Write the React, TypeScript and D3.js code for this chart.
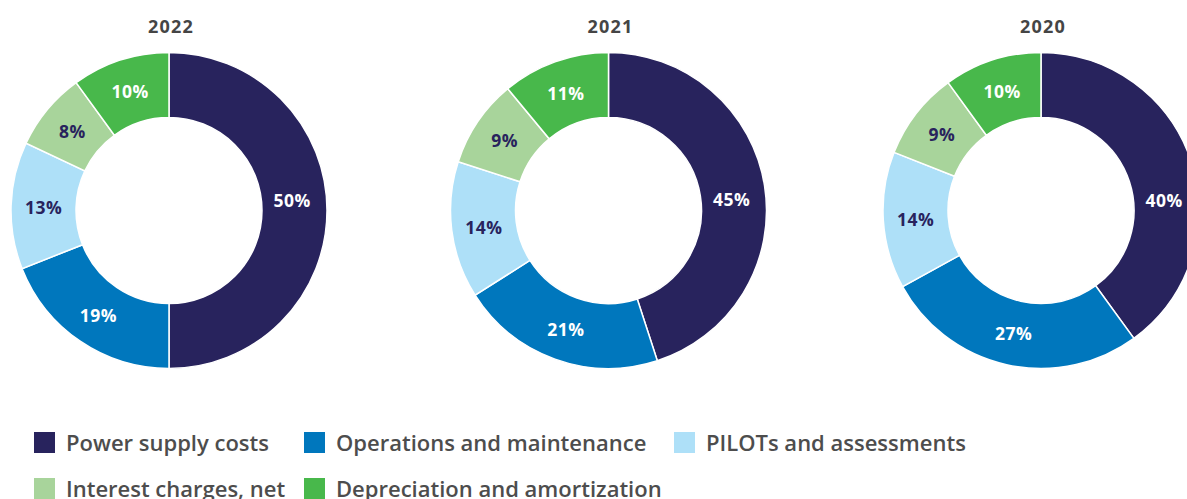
import React from "react";
import * as d3 from "d3";

const categories = [
  "Power supply costs",
  "Operations and maintenance",
  "PILOTs and assessments",
  "Interest charges, net",
  "Depreciation and amortization",
];
const years = ["2022", "2021", "2020"];
const values2022 = [50, 19, 13, 8, 10];
const values2021 = [45, 21, 14, 9, 11];
const values2020 = [40, 27, 14, 9, 10];
const seriesValues = [values2022, values2021, values2020];

const colors = ["#28235d", "#0077bd", "#aee0f8", "#a8d49b", "#48b84b"];
const labelColors = ["#ffffff", "#ffffff", "#28235d", "#28235d", "#ffffff"];

const W = 1187;
const H = 499;
const centersX = [169, 608.5, 1041];
const CY = 210.5;
const R_OUT = 158;
const R_IN = 93;
const FONT = "'Open Sans', Lato, sans-serif";

const legendCols = [34, 304, 674];
const legendRows = [432, 478];
const SW = 21;

export default function App() {
  const pie = d3
    .pie<number>()
    .value((d) => d)
    .sort(null);
  const arc = d3
    .arc<d3.PieArcDatum<number>>()
    .innerRadius(R_IN)
    .outerRadius(R_OUT);
  const labelR = (R_IN + R_OUT) / 2;

  return (
    <svg
      width={W}
      height={H}
      style={{ position: "absolute", left: 0, top: 0, background: "#fff" }}
      fontFamily={FONT}
    >
      {seriesValues.map((vals, i) => {
        const arcs = pie(vals);
        const cx = centersX[i];
        return (
          <g key={years[i]} transform={`translate(${cx},${CY})`}>
            <text
              x={2}
              y={-CY + 33}
              textAnchor="middle"
              fontSize={18}
              fontWeight={700}
              letterSpacing={1.2}
              fill="#454545"
            >
              {years[i]}
            </text>
            {arcs.map((a, j) => (
              <path
                key={j}
                d={arc(a) || ""}
                fill={colors[j]}
                stroke="#fff"
                strokeWidth={1.5}
              />
            ))}
            {arcs.map((a, j) => {
              let x: number, y: number;
              if (j === 0) {
                const ang = (86 * Math.PI) / 180;
                x = labelR * Math.sin(ang) - 2;
                y = -labelR * Math.cos(ang) + (i === 1 ? -2 : -1);
              } else {
                const c = arc.centroid(a);
                x = c[0];
                y = c[1] + 1;
              }
              return (
                <text
                  key={"l" + j}
                  x={x}
                  y={y}
                  dy="0.36em"
                  textAnchor="middle"
                  fontSize={17.5}
                  fontWeight={700}
                  letterSpacing={0.5}
                  fill={labelColors[j]}
                >
                  {`${vals[j]}%`}
                </text>
              );
            })}
          </g>
        );
      })}
      {categories.map((c, k) => {
        const col = k % 3;
        const row = Math.floor(k / 3);
        const x = legendCols[col];
        const y = legendRows[row];
        return (
          <g key={c}>
            <rect x={x} y={y} width={SW} height={SW} fill={colors[k]} />
            <text
              x={x + 32}
              y={y + 19}
              fontSize={22}
              fontWeight={600}
              fill="#4d4d4d"
            >
              {c}
            </text>
          </g>
        );
      })}
    </svg>
  );
}
